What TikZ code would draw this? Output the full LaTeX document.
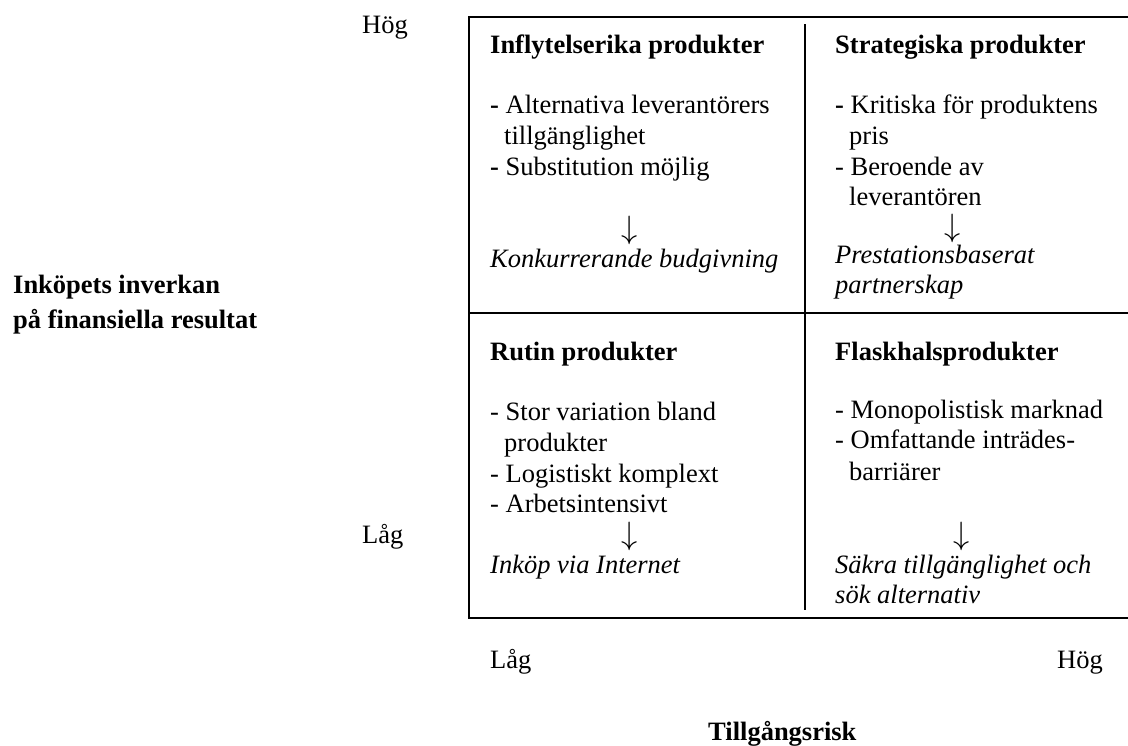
\documentclass[tikz,border=0pt]{standalone}
\usepackage{graphicx}
\usepackage{fontspec}
\setmainfont{Liberation Serif}
\newcommand{\nedpil}{\scalebox{1.3}{$\downarrow$}}
\begin{document}
\begin{tikzpicture}[x=1pt, y=-1pt,
        every node/.style={inner sep=0pt, font=\fontsize{26.5}{31}\selectfont},
        txt/.style={anchor=base west},
        rubrik/.style={anchor=base west, font=\fontsize{26.5}{31}\selectfont\bfseries},
        svar/.style={anchor=base west, font=\fontsize{26.5}{31}\selectfont\itshape},
        pil/.style={anchor=base, font=\fontsize{24.88}{30}\selectfont},
        ram/.style={line width=1.6pt}]
        \useasboundingbox (0, 0) rectangle (1128, 745);

        \draw[ram] (1128, 17) -- (469, 17) -- (469, 618) -- (1128, 618);
        \draw[ram] (469, 313) -- (1128, 313);
        \draw[ram] (805, 24) -- (805, 610);

        \node[txt] (hogy) at (362, 33) {Hög};
        \node[txt] (lagy) at (362, 543) {Låg};
        \node[rubrik] (yaxel1) at (13, 293) {Inköpets inverkan};
        \node[rubrik] (yaxel2) at (13, 328) {på finansiella resultat};
        \node[txt] (lagx) at (490, 668) {Låg};
        \node[txt] (hogx) at (1057, 668) {Hög};
        \node[rubrik] (xaxel) at (708, 740) {Tillgångsrisk};

        \node[rubrik] (inf) at (490, 53) {Inflytelserika produkter};
        \node[txt] (inf1) at (490, 113) {\textbf{-} Alternativa leverantörers};
        \node[txt] (inf2) at (504, 144) {tillgänglighet};
        \node[txt] (inf3) at (490, 175) {\textbf{-} Substitution möjlig};
        \node[pil] (infpil) at (630, 238) {\nedpil};
        \node[svar] (infsvar) at (490, 267) {Konkurrerande budgivning};

        \node[rubrik] (str) at (835, 53) {Strategiska produkter};
        \node[txt] (str1) at (835, 113) {\textbf{-} Kritiska för produktens};
        \node[txt] (str2) at (849, 144) {pris};
        \node[txt] (str3) at (835, 175) {- Beroende av};
        \node[txt] (str4) at (849, 205) {leverantören};
        \node[pil] (strpil) at (953, 236) {\nedpil};
        \node[svar] (strsvar1) at (835, 263) {Prestationsbaserat};
        \node[svar] (strsvar2) at (835, 293) {partnerskap};

        \node[rubrik] (rut) at (490, 360) {Rutin produkter};
        \node[txt] (rut1) at (490, 420) {- Stor variation bland};
        \node[txt] (rut2) at (504, 451) {produkter};
        \node[txt] (rut3) at (490, 482) {- Logistiskt komplext};
        \node[txt] (rut4) at (490, 512) {- Arbetsintensivt};
        \node[pil] (rutpil) at (630, 544) {\nedpil};
        \node[svar] (rutsvar) at (490, 573) {Inköp via Internet};

        \node[rubrik] (fla) at (835, 360) {Flaskhalsprodukter};
        \node[txt] (fla1) at (835, 418) {- Monopolistisk marknad};
        \node[txt] (fla2) at (835, 448) {- Omfattande inträdes-};
        \node[txt] (fla3) at (849, 480) {barriärer};
        \node[pil] (flapil) at (962, 544) {\nedpil};
        \node[svar] (flasvar1) at (835, 573) {Säkra tillgänglighet och};
        \node[svar] (flasvar2) at (835, 603) {sök alternativ};
    \end{tikzpicture}
\end{document}
